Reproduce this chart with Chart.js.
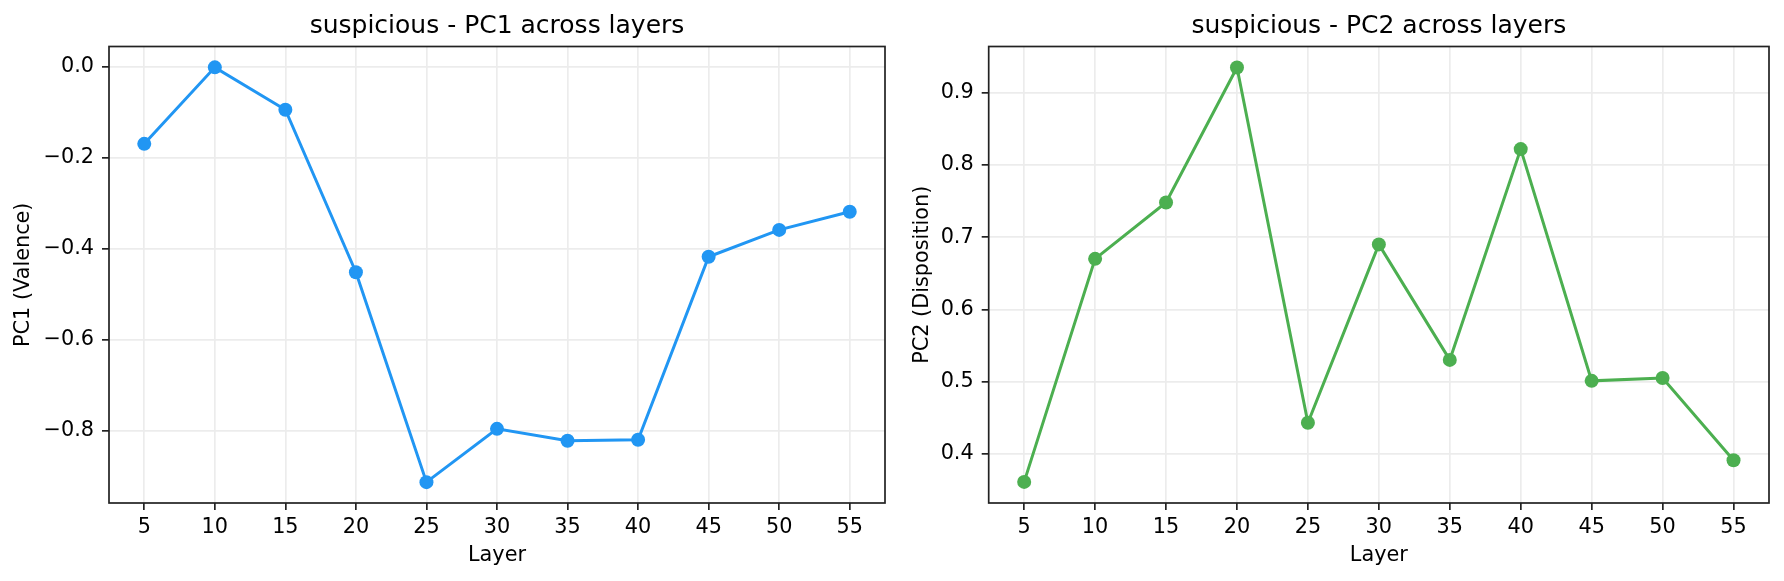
<!DOCTYPE html>
<html>
<head>
<meta charset="utf-8">
<script src="https://cdn.jsdelivr.net/npm/chart.js@4.4.1/dist/chart.umd.min.js"></script>
<style>
  html, body { margin: 0; padding: 0; background: #fff; }
  #wrap { position: relative; width: 1784px; height: 581px; }
  .panel { position: absolute; top: 0; width: 892px; height: 581px; }
</style>
</head>
<body>
<div id="wrap">
  <div class="panel" style="left:0"><canvas id="pc1" width="892" height="581"></canvas></div>
  <div class="panel" style="left:892px"><canvas id="pc2" width="892" height="581"></canvas></div>
</div>
<script>
  // Values
  const layers = [5, 10, 15, 20, 25, 30, 35, 40, 45, 50, 55];
  const pc1Values = [-0.170, -0.002, -0.095, -0.452, -0.913, -0.796, -0.822, -0.820, -0.418, -0.359, -0.319];
  const pc2Values = [0.361, 0.670, 0.748, 0.935, 0.443, 0.690, 0.530, 0.822, 0.501, 0.505, 0.391];

  const xTicks = [5, 10, 15, 20, 25, 30, 35, 40, 45, 50, 55];
  const pc1Ticks = [-0.8, -0.6, -0.4, -0.2, 0.0];
  const pc2Ticks = [0.4, 0.5, 0.6, 0.7, 0.8, 0.9];

  const FONT = "'DejaVu Sans', sans-serif";
  const GRID = "#ececec";
  const INK = "#222";

  // matplotlib style tick label: unicode minus, one decimal
  const fmtTick = (v) => (v < -1e-9 ? "\u2212" : "") + Math.abs(v).toFixed(1);

  // Axes box + title centred on the plot area (matplotlib-like)
  const frame = {
    id: "frame",
    afterDraw(chart, args, opts) {
      const { ctx, chartArea: a } = chart;
      ctx.save();
      ctx.strokeStyle = INK;
      ctx.lineWidth = 1.7;
      ctx.strokeRect(a.left, a.top, a.right - a.left, a.bottom - a.top);
      ctx.fillStyle = "#000";
      ctx.font = "25px " + FONT;
      ctx.textAlign = "center";
      ctx.textBaseline = "alphabetic";
      ctx.fillText(opts.text, (a.left + a.right) / 2, 33);
      ctx.restore();
    }
  };

  function makeChart(id, values, ticks, yMin, yMax, color, title, yLabel, yWidth, yTitlePad, padRight) {
    new Chart(document.getElementById(id), {
      type: "line",
      data: {
        datasets: [{
          data: layers.map((l, i) => ({ x: l, y: values[i] })),
          borderColor: color,
          backgroundColor: color,
          borderWidth: 3,
          pointRadius: 7,
          pointBorderWidth: 0,
          pointBackgroundColor: color,
          tension: 0
        }]
      },
      plugins: [frame],
      options: {
        responsive: false,
        animation: false,
        events: [],
        layout: { padding: { top: 46.5, right: padRight, left: 0, bottom: 0 } },
        plugins: {
          legend: { display: false },
          tooltip: { enabled: false },
          frame: { text: title }
        },
        scales: {
          x: {
            type: "linear",
            min: 2.5,
            max: 57.5,
            afterBuildTicks: (s) => { s.ticks = xTicks.map(v => ({ value: v })); },
            afterFit: (s) => { s.height = 78; },
            grid: { color: GRID, lineWidth: 1.7, tickColor: INK, tickLength: 7, tickWidth: 1.7 },
            border: { display: false },
            ticks: { color: "#000", font: { family: FONT, size: 20.8 }, padding: 5, maxRotation: 0, autoSkip: false },
            title: { display: true, text: "Layer", color: "#000", font: { family: FONT, size: 20.8, lineHeight: 1.2 }, padding: { top: 0, bottom: 13 } }
          },
          y: {
            type: "linear",
            min: yMin,
            max: yMax,
            afterBuildTicks: (s) => { s.ticks = ticks.map(v => ({ value: v })); },
            afterFit: (s) => { s.width = yWidth; },
            grid: { color: GRID, lineWidth: 1.7, tickColor: INK, tickLength: 7, tickWidth: 1.7 },
            border: { display: false },
            ticks: { color: "#000", font: { family: FONT, size: 20.8 }, padding: 8, callback: fmtTick },
            title: { display: true, text: yLabel, color: "#000", font: { family: FONT, size: 20.8, lineHeight: 1.2 }, padding: { top: yTitlePad, bottom: 0 } }
          }
        }
      }
    });
  }

  makeChart("pc1", pc1Values, pc1Ticks, -0.9588, 0.0438, "#2196F3",
    "suspicious - PC1 across layers", "PC1 (Valence)", 109, 11, 3);
  makeChart("pc2", pc2Values, pc2Ticks, 0.3318, 0.9641, "#4CAF50",
    "suspicious - PC2 across layers", "PC2 (Disposition)", 96.7, 18, 15);
</script>
</body>
</html>
